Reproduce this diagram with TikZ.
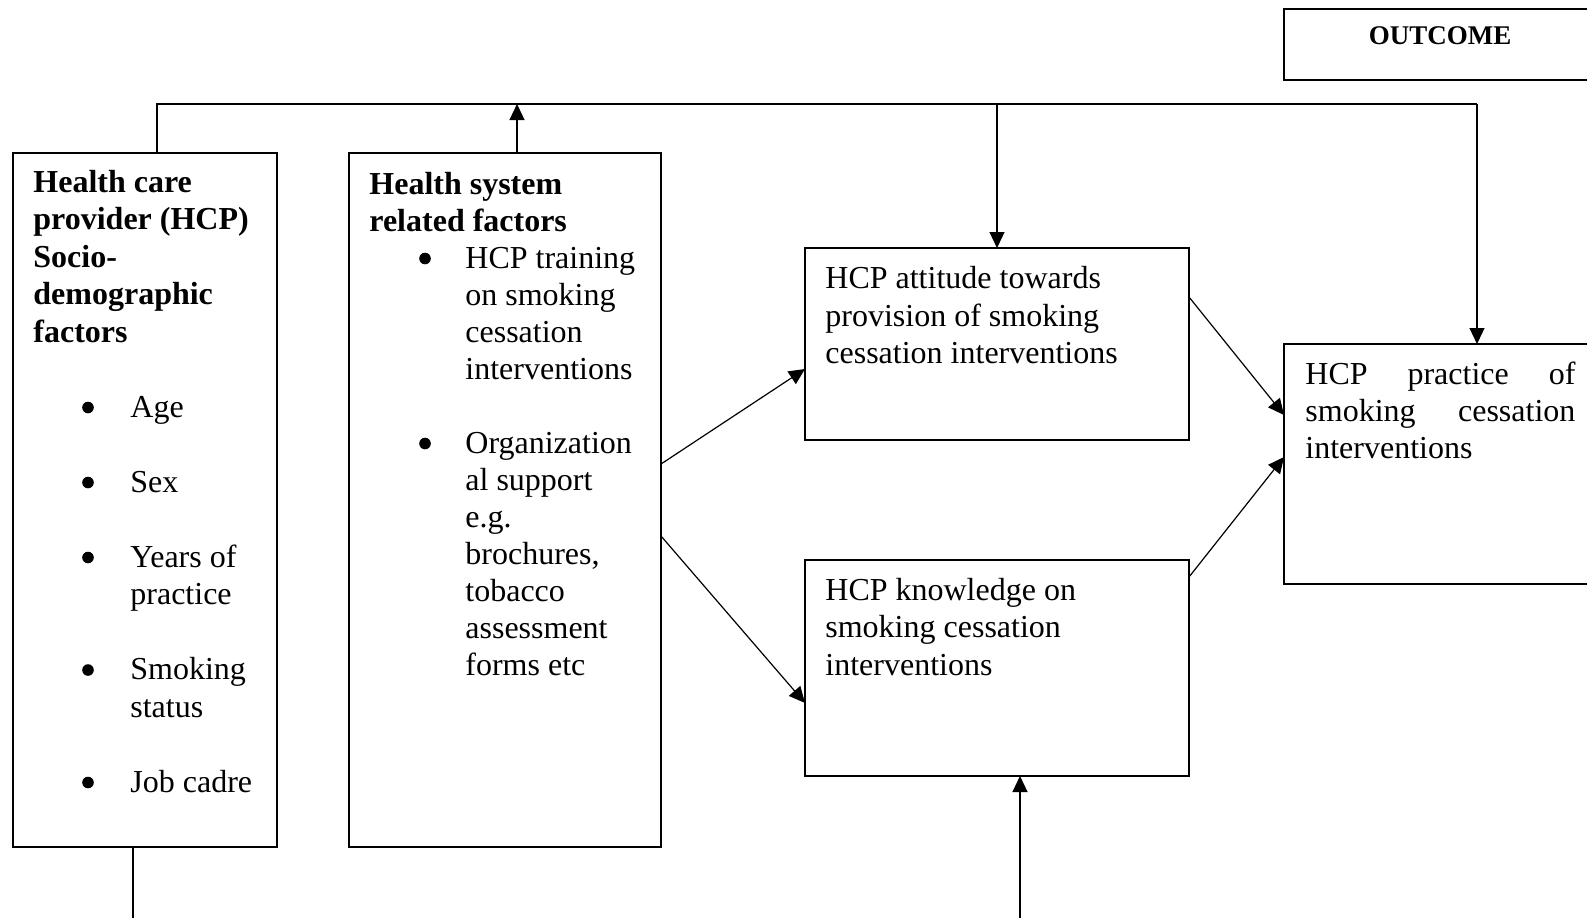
\documentclass[tikz,border=0pt]{standalone}
\usepackage{fontspec}
\setmainfont{Liberation Serif}
\usetikzlibrary{arrows.meta}
\begin{document}
\begin{tikzpicture}[x=0.5pt,y=-0.5pt,
  box/.style={draw, line width=1pt, anchor=north west, inner sep=0pt, outer sep=0pt},
  txt/.style={anchor=base west, inner sep=0pt, font=\fontsize{16}{18.7}\selectfont},
  btxt/.style={anchor=base west, inner sep=0pt, font=\fontsize{16}{18.7}\selectfont\bfseries},
  bul/.style={circle, fill, inner sep=0pt, minimum size=5.8pt},
  conn/.style={line width=0.6pt},
  arr/.style={conn, -{Triangle[length=8pt,width=7.5pt]}}]
\useasboundingbox (0,0) rectangle (1587,917);

% boxes
\node[box, minimum width=132pt, minimum height=347pt] (box1) at (13,153) {};
\node[box, minimum width=156pt, minimum height=347pt] (box2) at (349,153) {};
\node[box, minimum width=192pt, minimum height=96pt] (box3) at (805,248) {};
\node[box, minimum width=192pt, minimum height=108pt] (box4) at (805,560) {};
\node[box, minimum width=160pt, minimum height=120pt] (box5) at (1284,344) {};
\node[box, minimum width=160pt, minimum height=35.5pt] (outbox) at (1284,9) {};

% outcome label
\node[anchor=base, inner sep=0pt, font=\fontsize{13.5}{16}\selectfont\bfseries] (outtxt) at (1440,44) {OUTCOME};

% box1 text
\foreach \t [count=\i from 0] in {Health care, provider (HCP), Socio-, demographic, factors}
  \node[btxt] (h1l\i) at (33, 192+37.5*\i) {\t};
\foreach \t/\k [count=\i] in {Age/6, Sex/8, Years of/10, practice/11, Smoking/13, status/14, Job cadre/16}
  \node[txt] (i1l\i) at (130, 192+37.5*\k) {\t};
\foreach \k [count=\i] in {6,8,10,13,16}
  \node[bul] (b1d\i) at (88, 182.5+37.5*\k) {};

% box2 text
\foreach \t [count=\i from 0] in {Health system, related factors}
  \node[btxt] (h2l\i) at (369, 194+37.0*\i) {\t};
\foreach \t/\k [count=\i] in {HCP training/2, on smoking/3, cessation/4, interventions/5, Organization/7, al support/8, e.g./9, {brochures,}/10, tobacco/11, assessment/12, forms etc/13}
  \node[txt] (i2l\i) at (465, 194+37.0*\k) {\t};
\foreach \k [count=\i] in {2,7}
  \node[bul] (b2d\i) at (425, 184.5+37.0*\k) {};

% box3 text
\foreach \t [count=\i from 0] in {HCP attitude towards, provision of smoking, cessation interventions}
  \node[txt] (t3l\i) at (825, 288.7+37.5*\i) {\t};

% box4 text
\foreach \t [count=\i from 0] in {HCP knowledge on, smoking cessation, interventions}
  \node[txt] (t4l\i) at (825, 600.5+37.3*\i) {\t};

% box5 text (justified)
\node[txt] (t5l0) at (1305,384.5) {\makebox[135pt][s]{HCP practice of}};
\node[txt] (t5l1) at (1305,421.5) {\makebox[135pt][s]{smoking cessation}};
\node[txt] (t5l2) at (1305,458.5) {interventions};

% connector coordinates
\coordinate (t1) at (157,104);
\coordinate (t2) at (1477,104);
\coordinate (t3) at (517,104);
\coordinate (t4) at (997,104);
\coordinate (b1) at (133,920);
\coordinate (b2) at (1020,920);

\draw[conn] (box1.north -| t1) -- (t1) -- (t2);
\draw[arr] (t2) -- (box5.north -| t2);
\draw[arr] (box2.north -| t3) -- (t3);
\draw[arr] (t4) -- (box3.north -| t4);
\draw[conn] (box1.south -| b1) -- (b1);
\draw[arr] (b2) -- (box4.south -| b2);

\draw[arr] ([yshift=18pt]box2.east) -- ([yshift=-12.5pt]box3.west);
\draw[arr] ([yshift=-18pt]box2.east) -- ([yshift=-17.5pt]box4.west);
\draw[arr] ([yshift=23.5pt]box3.east) -- ([yshift=24.5pt]box5.west);
\draw[arr] ([yshift=45.5pt]box4.east) -- ([yshift=3.5pt]box5.west);
\end{tikzpicture}
\end{document}
